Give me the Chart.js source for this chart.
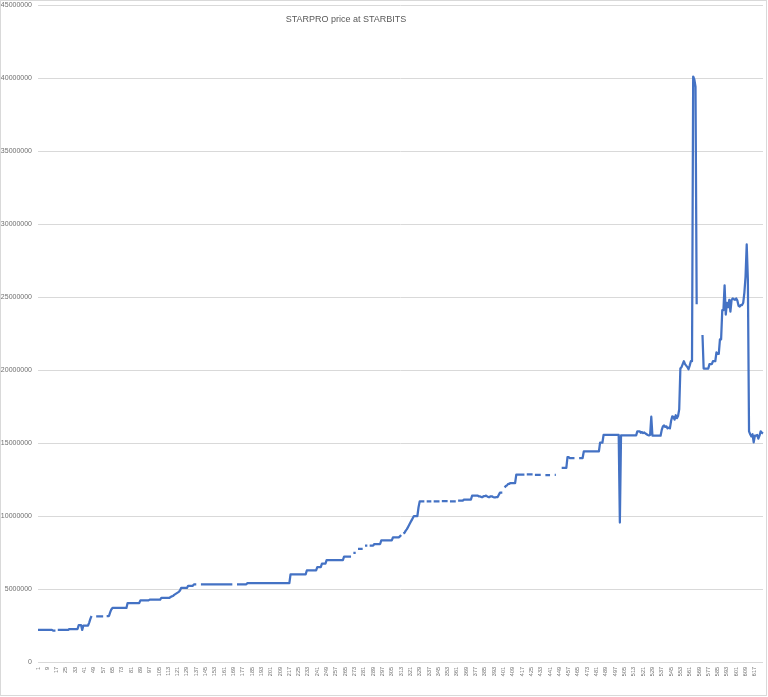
<!DOCTYPE html>
<html>
<head>
<meta charset="utf-8">
<title>STARPRO price at STARBITS</title>
<script src="https://cdn.jsdelivr.net/npm/chart.js@4.4.1/dist/chart.umd.min.js"></script>
<style>
    html, body { margin: 0; padding: 0; background: #fff; }
    #wrap { width: 768px; height: 697px; }
</style>
</head>
<body>
<div id="wrap"><canvas id="priceChart" width="768" height="697"></canvas></div>
<script>
// =========================
// DATA
// =========================
const chartTitle = "STARPRO price at STARBITS";
const pointCount = 624;
const categories = Array.from({ length: pointCount }, (_, i) => String(i + 1));
const labelStep = 8;
const yTicks = [0, 5000000, 10000000, 15000000, 20000000, 25000000, 30000000, 35000000, 40000000, 45000000];

// [from, to, price], index is 1-based; missing indexes stay empty
const priceRuns = [
    [1, 13, 2200000], [14, 16, 2150000], [18, 27, 2200000], [28, 35, 2260000],
    [36, 38, 2530000], [39, 39, 2200000], [40, 44, 2500000], [45, 45, 2700000],
    [46, 46, 2950000], [47, 47, 3150000], [51, 57, 3120000], [60, 62, 3150000],
    [63, 63, 3400000], [64, 64, 3600000], [65, 77, 3700000], [78, 88, 4040000],
    [89, 96, 4220000], [97, 106, 4270000], [107, 114, 4400000], [115, 115, 4450000],
    [116, 116, 4500000], [117, 117, 4520000], [118, 118, 4600000], [119, 119, 4650000],
    [120, 120, 4700000], [121, 121, 4750000], [122, 122, 4800000], [123, 123, 4900000],
    [124, 129, 5070000], [130, 134, 5220000], [135, 137, 5320000], [141, 168, 5320000],
    [172, 180, 5320000], [181, 217, 5400000]
];

const priceRuns2 = [
    [218, 231, 6000000], [232, 240, 6270000], [241, 244, 6500000], [245, 248, 6730000],
    [249, 263, 6980000], [264, 270, 7210000], [272, 274, 7470000], [276, 280, 7740000],
    [282, 284, 7970000], [286, 289, 7970000], [290, 295, 8080000], [296, 305, 8330000],
    [306, 311, 8530000], [312, 312, 8600000], [313, 313, 8700000], [315, 315, 8800000],
    [316, 316, 8850000], [317, 317, 9000000], [318, 318, 9100000], [319, 319, 9250000],
    [320, 320, 9400000], [321, 321, 9550000], [322, 322, 9700000], [323, 323, 9850000],
    [324, 327, 10000000], [328, 328, 10600000], [329, 333, 11000000], [335, 339, 11000000],
    [341, 346, 11000000], [348, 353, 11020000], [355, 360, 11000000], [362, 366, 11050000],
    [367, 373, 11120000], [374, 379, 11390000], [380, 381, 11340000], [382, 383, 11300000],
    [384, 385, 11360000], [386, 386, 11400000], [387, 387, 11340000], [388, 389, 11300000],
    [390, 391, 11350000], [392, 392, 11300000], [393, 394, 11280000], [395, 396, 11300000],
    [397, 397, 11450000], [398, 400, 11600000]
];

const priceRuns3 = [
    [402, 402, 11950000], [403, 403, 12050000], [404, 404, 12100000], [405, 406, 12200000],
    [407, 411, 12260000], [412, 419, 12830000], [421, 426, 12850000], [428, 433, 12820000],
    [437, 441, 12800000], [445, 446, 12820000], [451, 455, 13300000], [456, 457, 14030000],
    [458, 462, 13970000], [466, 469, 13970000], [470, 483, 14420000], [484, 486, 15020000],
    [487, 500, 15550000], [501, 501, 9550000], [502, 515, 15520000], [516, 518, 15800000],
    [519, 519, 15700000], [520, 520, 15750000], [521, 521, 15680000], [522, 522, 15720000],
    [523, 523, 15650000], [524, 524, 15600000], [525, 525, 15550000], [526, 526, 15520000],
    [527, 527, 15550000], [528, 528, 16800000], [529, 536, 15500000], [537, 537, 15900000],
    [538, 538, 16140000], [539, 539, 16200000], [540, 540, 16100000], [541, 541, 16140000],
    [542, 542, 16000000], [543, 543, 16050000], [544, 544, 16000000], [545, 545, 16500000],
    [546, 546, 16820000], [547, 547, 16800000], [548, 548, 16600000], [549, 549, 16900000],
    [550, 550, 16700000], [551, 551, 16850000], [552, 552, 17300000]
];

const priceRuns4 = [
    [553, 553, 20100000], [554, 554, 20200000], [555, 555, 20400000], [556, 556, 20600000],
    [557, 557, 20400000], [558, 558, 20300000], [559, 559, 20200000], [560, 560, 20050000],
    [561, 561, 20300000], [562, 563, 20600000], [564, 564, 40100000], [565, 565, 39900000],
    [566, 566, 39400000], [567, 567, 24500000], [572, 572, 22400000], [573, 577, 20100000],
    [578, 580, 20400000], [581, 583, 20600000], [584, 584, 21200000], [585, 586, 21100000],
    [587, 588, 22100000], [589, 590, 24100000], [591, 591, 25800000], [592, 592, 23800000],
    [593, 593, 24600000], [594, 594, 24300000], [595, 595, 24800000], [596, 596, 24000000],
    [597, 597, 24800000], [598, 598, 24900000], [599, 599, 24850000], [600, 600, 24800000],
    [601, 601, 24900000], [602, 602, 24750000], [603, 603, 24400000], [604, 604, 24350000],
    [605, 606, 24450000], [607, 607, 24600000], [608, 608, 25300000], [609, 609, 26400000],
    [610, 610, 28600000], [611, 611, 26200000], [612, 612, 15800000], [613, 613, 15600000],
    [614, 614, 15450000], [615, 615, 15600000], [616, 616, 15040000], [617, 618, 15500000],
    [619, 619, 15550000], [620, 620, 15300000], [621, 621, 15500000], [622, 622, 15800000],
    [623, 623, 15700000], [624, 624, 15650000]
];

// =========================
// SERIE
// =========================
const prices = new Array(pointCount).fill(null);
[...priceRuns, ...priceRuns2, ...priceRuns3, ...priceRuns4].forEach(([from, to, price]) => {
    for (let i = from; i <= to; i++) prices[i - 1] = price;
});

// =========================
// PLUGIN (title + frame)
// =========================
const frameTitle = {
    id: "frameTitle",
    afterDraw(chart) {
        const ctx = chart.ctx;
        ctx.save();
        ctx.font = "9px 'Liberation Sans'";
        ctx.fillStyle = "#595959";
        ctx.textAlign = "center";
        ctx.textBaseline = "alphabetic";
        ctx.fillText(chartTitle, 346, 22);
        ctx.strokeStyle = "#d9d9d9";
        ctx.lineWidth = 1;
        ctx.strokeRect(0.5, 0.5, 766, 695);
        ctx.restore();
    }
};

// =========================
// CHART
// =========================
const axisColor = "#6f6f6f";

new Chart(document.getElementById("priceChart"), {
    type: "line",
    data: {
        labels: categories,
        datasets: [{
            label: "STARPRO",
            data: prices,
            borderColor: "#4472c4",
            borderWidth: 2.25,
            pointRadius: 0,
            tension: 0,
            spanGaps: false,
            borderJoinStyle: "round"
        }]
    },
    options: {
        responsive: false,
        animation: false,
        devicePixelRatio: 1,
        layout: { padding: { left: 0, right: 5, top: 5, bottom: 0 } },
        plugins: {
            legend: { display: false },
            tooltip: { enabled: false }
        },
        scales: {
            x: {
                type: "category",
                offset: false,
                grid: { display: false, drawTicks: false },
                border: { display: false },
                afterFit: scale => {
                    scale.height = 35;
                    scale.paddingLeft = 0;
                    scale.paddingRight = 0;
                },
                ticks: {
                    autoSkip: false,
                    minRotation: 90,
                    maxRotation: 90,
                    padding: 5,
                    color: axisColor,
                    font: { family: "'Liberation Sans'", size: 5.5 },
                    callback: (val, index) => index % labelStep === 0 ? categories[index] : ""
                }
            },
            y: {
                min: yTicks[0],
                max: yTicks[yTicks.length - 1],
                afterBuildTicks: scale => { scale.ticks = yTicks.map(v => ({ value: v })); },
                afterFit: scale => {
                    scale.width = 38;
                    scale.paddingTop = 0;
                    scale.paddingBottom = 0;
                },
                grid: { color: "#d9d9d9", lineWidth: 1, drawTicks: false },
                border: { display: false },
                ticks: {
                    padding: 6,
                    color: axisColor,
                    font: { family: "'Liberation Sans'", size: 7 },
                    callback: v => String(v)
                }
            }
        }
    },
    plugins: [frameTitle]
});
</script>
</body>
</html>
